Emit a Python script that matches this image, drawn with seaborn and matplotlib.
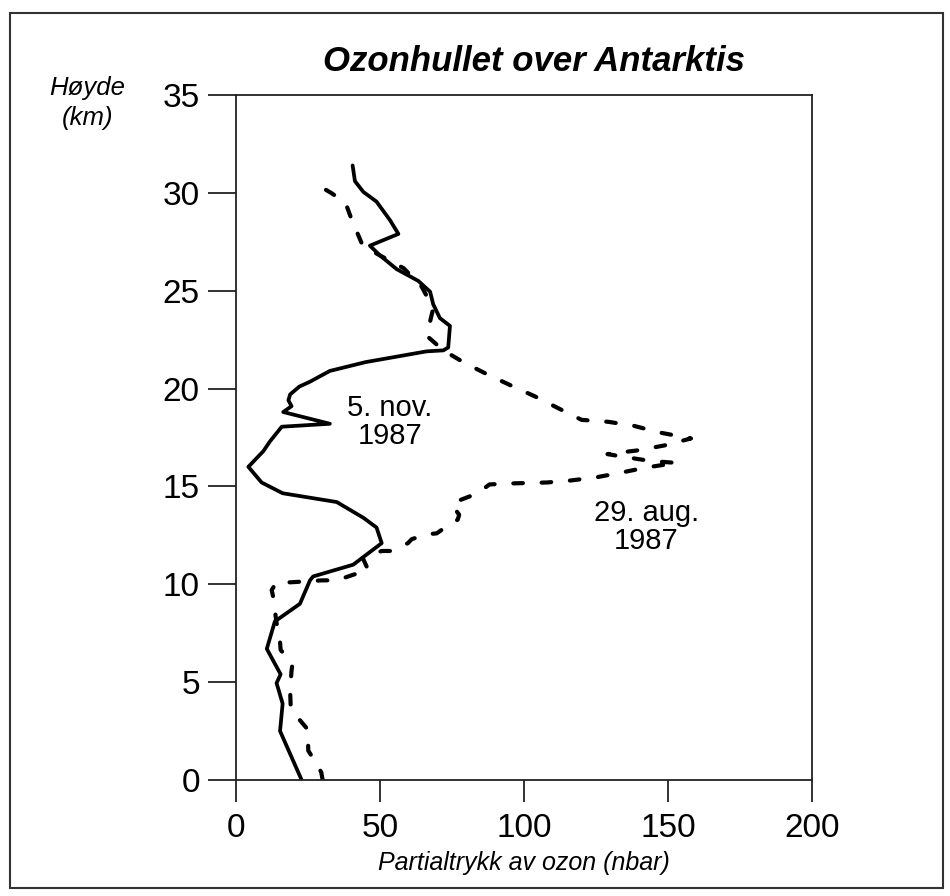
import matplotlib
matplotlib.use("Agg")
import matplotlib.pyplot as plt
from matplotlib.patches import Rectangle
import seaborn as sns

# 5. nov. 1987 (heltrukken kurve), fra bakken og opp
nov_ozon = [22.8, 15.3, 16.2, 14.1, 15.5, 10.7, 13.5, 22.2, 25.7, 26.8, 40.7, 50.6,
            48.8, 44.2, 35.0, 16.2, 8.9, 4.3, 9.5, 11.8, 15.9, 32.6, 16.4, 19.3,
            18.2, 18.8, 22.0, 25.7, 32.6, 45.0, 66.2, 72.0, 73.7, 74.3, 70.8, 68.5,
            67.4, 63.3, 55.8, 50.0, 46.5, 56.4, 53.5, 48.8, 44.2, 41.3, 40.5]
nov_hoyde = [0.0, 2.5, 3.9, 4.95, 5.4, 6.7, 8.1, 9.0, 10.2, 10.4, 11.0, 12.1,
             12.9, 13.4, 14.2, 14.65, 15.2, 16.0, 16.8, 17.3, 18.05, 18.2, 18.8, 19.1,
             19.4, 19.7, 20.1, 20.35, 20.9, 21.35, 21.9, 21.95, 22.1, 23.2, 23.6, 24.3,
             24.95, 25.5, 26.1, 26.8, 27.3, 27.9, 28.6, 29.55, 30.05, 30.6, 31.4]

# 29. aug. 1987 (stiplet kurve)
aug_ozon = [30.1, 29.6, 26.8, 25.1, 25.0, 24.8, 20.8, 19.0, 18.8, 19.3, 19.6, 15.5,
            15.3, 14.0, 13.0, 12.4, 14.0, 19.0, 30.0, 35.0, 41.0, 46.0, 44.0, 50.6,
            54.0, 59.7, 61.0, 66.0, 69.7, 74.0, 77.0, 77.5, 75.0, 77.8, 84.0, 88.0,
            95.0, 108.0, 116.0, 124.6, 133.6, 142.6, 153.0, 144.0, 135.0, 129.0, 140.0,
            149.0, 158.0, 147.2, 138.0, 129.3, 120.0, 112.5, 103.8, 96.3, 87.6, 79.5,
            72.0, 66.2, 66.7, 68.5, 64.5, 58.2, 50.0, 44.0, 42.0, 40.5, 38.0, 33.0, 29.5]
aug_hoyde = [0.0, 0.4, 1.1, 1.5, 2.2, 2.6, 3.3, 3.7, 4.6, 5.6, 5.9, 6.65,
             7.05, 8.1, 9.3, 9.7, 10.1, 10.1, 10.2, 10.2, 10.5, 10.7, 11.35, 11.7,
             11.7, 12.1, 12.3, 12.55, 12.6, 13.05, 13.3, 13.55, 14.05, 14.3, 14.65, 15.1,
             15.15, 15.2, 15.3, 15.45, 15.7, 15.97, 16.2, 16.3, 16.5, 16.65, 16.85,
             17.1, 17.45, 17.75, 18.1, 18.3, 18.4, 18.95, 19.6, 20.1, 20.7, 21.3,
             21.95, 22.7, 23.0, 24.1, 25.2, 26.15, 26.8, 27.3, 28.0, 28.5, 29.5, 30.0, 30.3]

x_ticks = [0, 50, 100, 150, 200]
y_ticks = [0, 5, 10, 15, 20, 25, 30, 35]

sns.set_style("ticks")
plt.rcParams["font.family"] = ["Liberation Sans", "DejaVu Sans"]
plt.rcParams.update({"text.color": "black", "axes.labelcolor": "black",
                     "xtick.color": "black", "ytick.color": "black"})

fig = plt.figure(figsize=(9.5, 8.96), dpi=100)
ax = fig.add_axes([0.2484, 0.1295, 0.6063, 0.7645])

sns.lineplot(x=nov_ozon, y=nov_hoyde, sort=False, estimator=None, color="black",
             linewidth=2.7, ax=ax)
sns.lineplot(x=aug_ozon, y=aug_hoyde, sort=False, estimator=None, color="black",
             linewidth=3.0, linestyle=(0, (2.3, 4.5)), dash_capstyle="round", ax=ax)

ax.set_xlim(0, 200)
ax.set_ylim(0, 35)
ax.set_xticks(x_ticks)
ax.set_yticks(y_ticks)
for s in ax.spines.values():
    s.set_linewidth(1.3)
    s.set_color("#222222")
ax.tick_params(axis="y", length=20, width=1.3, pad=6, labelsize=24, color="#222222")
ax.tick_params(axis="x", length=16, width=1.3, pad=8, labelsize=24, color="#222222")

ax.set_title("Ozonhullet over Antarktis", fontsize=25, fontweight="bold",
             fontstyle="italic", pad=17, x=0.517)
ax.set_xlabel("Partialtrykk av ozon (nbar)", fontsize=18, fontstyle="italic", labelpad=5)
ax.set_ylabel("")
fig.text(0.092, 0.885, "Høyde\n(km)", fontsize=18.5, fontstyle="italic",
         ha="center", va="center", linespacing=1.3)

ax.text(53.5, 18.3, "5. nov.\n1987", fontsize=21, ha="center", va="center",
        linespacing=1.0)
ax.text(142.5, 12.9, "29. aug.\n1987", fontsize=21, ha="center", va="center",
        linespacing=1.0)

fig.patches.append(Rectangle((0.011, 0.009), 0.982, 0.977, transform=fig.transFigure,
                             fill=False, edgecolor="#333333", linewidth=1.5))

fig.savefig("out.png", dpi=100)
